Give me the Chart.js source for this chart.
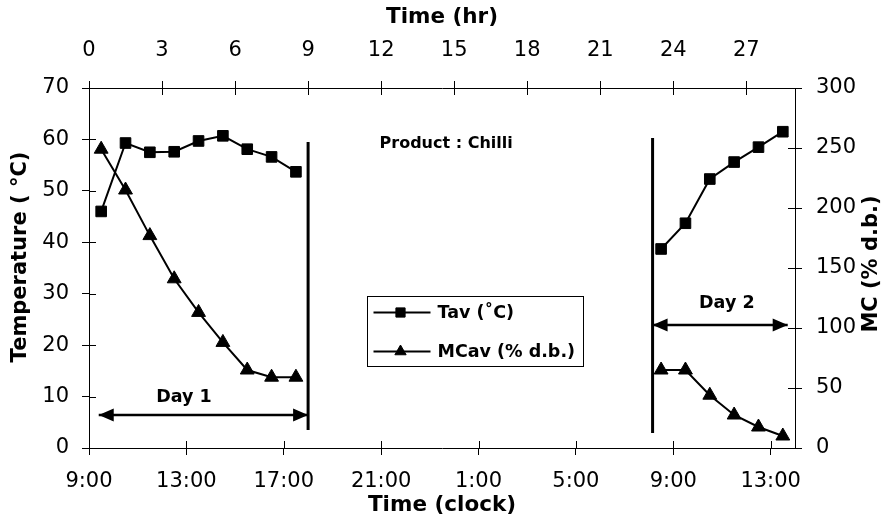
<!DOCTYPE html>
<html>
<head>
<meta charset="utf-8">
<script src="https://cdn.jsdelivr.net/npm/chart.js@4/dist/chart.umd.min.js"></script>
<style>
  html, body { margin: 0; padding: 0; background: #fff; }
  canvas { display: block; }
</style>
</head>
<body>
<canvas id="chart" width="893" height="522"></canvas>
<script>
// Elapsed drying time (hr) of each reading
const hoursDay1 = [0.5, 1.5, 2.5, 3.5, 4.5, 5.5, 6.5, 7.5, 8.5];
const hoursDay2 = [23.5, 24.5, 25.5, 26.5, 27.5, 28.5];
// Average air temperature, Tav (°C)
const tempDay1 = [46, 59.3, 57.5, 57.6, 59.7, 60.7, 58.1, 56.6, 53.7];
const tempDay2 = [38.7, 43.7, 52.3, 55.6, 58.5, 61.5];
// Average moisture content, MCav (% d.b.)
const mcDay1 = [249, 215, 177, 141, 113, 88, 65, 59, 59];
const mcDay2 = [65, 65, 44, 27.5, 17.5, 10];

// Tick labels
const clockLabels = ['9:00', '13:00', '17:00', '21:00', '1:00', '5:00', '9:00', '13:00'];
const hourLabels = ['0', '3', '6', '9', '12', '15', '18', '21', '24', '27'];
const tempLabels = ['0', '10', '20', '30', '40', '50', '60', '70'];
const mcLabels = ['0', '50', '100', '150', '200', '250', '300'];

// Start/end of each drying day (hr) and the vertical marker extent (°C)
const boundaryHours = [9.0, 23.15];
const boundaryLow = [3.5, 2.9];
const boundaryHigh = [59.5, 60.3];
// Day span arrows (hr) and their height (°C)
const arrowStart = [0.4, 23.15];
const arrowEnd = [9.0, 28.7];
const arrowLevel = [6.4, 23.9];
const dayNames = ['Day 1', 'Day 2'];
const dayNameHour = [3.9, 26.2];
const dayNameLevel = [9.9, 28.2];

const FONT = "'DejaVu Sans', sans-serif";

function joinDays(h1, v1, h2, v2) {
  const pts = h1.map((h, i) => ({ x: h, y: v1[i] }));
  pts.push({ x: (h1[h1.length - 1] + h2[0]) / 2, y: null });
  h2.forEach((h, i) => pts.push({ x: h, y: v2[i] }));
  return pts;
}

const datasets = [
  {
    label: 'Tav (˚C)',
    data: joinDays(hoursDay1, tempDay1, hoursDay2, tempDay2),
    xAxisID: 'x', yAxisID: 'y',
    borderColor: '#000', backgroundColor: '#000', borderWidth: 2,
    pointStyle: 'rect', pointRadius: 7.5, pointBorderWidth: 1,
    spanGaps: false, isSeries: true
  },
  {
    label: 'MCav (% d.b.)',
    data: joinDays(hoursDay1, mcDay1, hoursDay2, mcDay2),
    xAxisID: 'x', yAxisID: 'y2',
    borderColor: '#000', backgroundColor: '#000', borderWidth: 2,
    pointStyle: 'triangle', pointRadius: 8, pointBorderWidth: 1,
    spanGaps: false, isSeries: true
  }
];

boundaryHours.forEach((h, i) => {
  datasets.push({
    label: 'boundary' + i,
    data: [{ x: h, y: boundaryLow[i] }, { x: h, y: boundaryHigh[i] }],
    xAxisID: 'x', yAxisID: 'y',
    borderColor: '#000', borderWidth: 3, pointRadius: 0
  });
});
arrowStart.forEach((h, i) => {
  datasets.push({
    label: 'span' + i,
    data: [{ x: h, y: arrowLevel[i] }, { x: arrowEnd[i], y: arrowLevel[i] }],
    xAxisID: 'x', yAxisID: 'y',
    borderColor: '#000', borderWidth: 2.5, pointRadius: 0, isArrow: true
  });
});

function fixSize(prop, size) {
  return function (scale) { scale[prop] = size; };
}

const decorations = {
  id: 'decorations',
  afterDatasetsDraw(chart) {
    const { ctx, chartArea: a, scales } = chart;
    ctx.save();
    ctx.strokeStyle = '#000';
    ctx.fillStyle = '#000';

    // tick marks reaching into the plot area
    ctx.lineWidth = 1;
    const inner = 7;
    ctx.beginPath();
    scales.x.ticks.forEach(t => {
      const p = Math.round(scales.x.getPixelForValue(t.value)) + 0.5;
      ctx.moveTo(p, a.bottom); ctx.lineTo(p, a.bottom - inner);
    });
    scales.x2.ticks.forEach(t => {
      const p = Math.round(scales.x2.getPixelForValue(t.value)) + 0.5;
      ctx.moveTo(p, a.top); ctx.lineTo(p, a.top + inner);
    });
    scales.y.ticks.forEach(t => {
      const p = Math.round(scales.y.getPixelForValue(t.value)) + 0.5;
      ctx.moveTo(a.left, p); ctx.lineTo(a.left + inner, p);
    });
    scales.y2.ticks.forEach(t => {
      const p = Math.round(scales.y2.getPixelForValue(t.value)) + 0.5;
      ctx.moveTo(a.right, p); ctx.lineTo(a.right - inner, p);
    });
    ctx.stroke();

    // arrowheads on the day spans
    chart.data.datasets.forEach((ds, i) => {
      if (!ds.isArrow) return;
      const pts = chart.getDatasetMeta(i).data;
      const p0 = pts[0], p1 = pts[pts.length - 1];
      const len = 15, half = 6.5;
      ctx.beginPath();
      ctx.moveTo(p0.x, p0.y); ctx.lineTo(p0.x + len, p0.y - half); ctx.lineTo(p0.x + len, p0.y + half);
      ctx.closePath();
      ctx.moveTo(p1.x, p1.y); ctx.lineTo(p1.x - len, p1.y - half); ctx.lineTo(p1.x - len, p1.y + half);
      ctx.closePath();
      ctx.fill();
    });

    // day captions and product note
    ctx.textAlign = 'center';
    ctx.textBaseline = 'middle';
    ctx.font = 'bold 17.5px ' + FONT;
    dayNames.forEach((name, i) => {
      ctx.fillText(name, scales.x.getPixelForValue(dayNameHour[i]), scales.y.getPixelForValue(dayNameLevel[i]));
    });
    ctx.font = 'bold 16px ' + FONT;
    ctx.fillText('Product : Chilli', scales.x.getPixelForValue(14.67), scales.y.getPixelForValue(59.1));

    // legend box
    const series = chart.data.datasets.filter(d => d.isSeries);
    ctx.font = 'bold 17.5px ' + FONT;
    const textW = Math.max(...series.map(d => ctx.measureText(d.label).width));
    const bx = a.left + 278.5, by = a.top + 208.5;
    const bw = Math.round(70 + textW + 8), bh = 70;
    ctx.fillStyle = '#fff';
    ctx.fillRect(bx, by, bw, bh);
    ctx.fillStyle = '#000';
    ctx.lineWidth = 1;
    ctx.strokeRect(bx, by, bw, bh);
    series.forEach((d, i) => {
      const ry = by + 16 + i * 39;
      ctx.lineWidth = 2;
      ctx.beginPath();
      ctx.moveTo(bx + 6, ry); ctx.lineTo(bx + 63, ry);
      ctx.stroke();
      ctx.lineWidth = 1;
      Chart.helpers.drawPoint(ctx, { pointStyle: d.pointStyle, radius: 6.5, rotation: 0, borderWidth: 1 }, bx + 33, ry);
      ctx.textAlign = 'left';
      ctx.fillText(d.label, bx + 70, ry + 1);
    });

    // vertical axis titles, both reading bottom to top
    ctx.font = 'bold 21px ' + FONT;
    ctx.textAlign = 'center';
    ctx.textBaseline = 'middle';
    ctx.save();
    ctx.translate(21, 257);
    ctx.rotate(-Math.PI / 2);
    ctx.fillText('Temperature ( °C)', 0, 0);
    ctx.restore();
    ctx.save();
    ctx.translate(872, 264);
    ctx.rotate(-Math.PI / 2);
    ctx.fillText('MC (% d.b.)', 0, 0);
    ctx.restore();

    ctx.restore();
  }
};

const tickFont = { family: FONT, size: 21 };
const titleFont = { family: FONT, size: 21.5, weight: 'bold' };
const axisGrid = { display: true, drawOnChartArea: false, drawTicks: true, tickLength: 7, color: '#000', lineWidth: 1 };
const axisBorder = { display: true, color: '#000', width: 1 };

new Chart(document.getElementById('chart'), {
  type: 'line',
  data: { datasets },
  options: {
    responsive: false,
    animation: false,
    events: [],
    layout: { padding: 0 },
    plugins: { legend: { display: false }, tooltip: { enabled: false } },
    scales: {
      x: {
        type: 'linear', position: 'bottom', min: 0, max: 29,
        grid: axisGrid, border: axisBorder,
        ticks: {
          stepSize: 4, includeBounds: false, autoSkip: false, maxRotation: 0,
          color: '#000', font: tickFont, padding: 14,
          callback: v => clockLabels[Math.round(v / 4)]
        },
        title: { display: true, text: 'Time (clock)', color: '#000', font: titleFont, padding: { top: 0, bottom: 4 } },
        afterFit: fixSize('height', 74)
      },
      x2: {
        type: 'linear', position: 'top', min: 0, max: 29,
        grid: axisGrid, border: axisBorder,
        ticks: {
          stepSize: 3, includeBounds: false, autoSkip: false, maxRotation: 0,
          color: '#000', font: tickFont, padding: 18,
          callback: v => hourLabels[Math.round(v / 3)]
        },
        title: { display: true, text: 'Time (hr)', color: '#000', font: titleFont, padding: { top: 5, bottom: 0 } },
        afterFit: fixSize('height', 88)
      },
      y: {
        type: 'linear', position: 'left', min: 0, max: 70,
        grid: axisGrid, border: axisBorder,
        ticks: {
          stepSize: 10, includeBounds: false, color: '#000', font: tickFont, padding: 13,
          callback: v => tempLabels[Math.round(v / 10)]
        },
        afterFit: fixSize('width', 89)
      },
      y2: {
        type: 'linear', position: 'right', min: 0, max: 300,
        grid: axisGrid, border: axisBorder,
        ticks: {
          stepSize: 50, includeBounds: false, color: '#000', font: tickFont, padding: 14,
          callback: v => mcLabels[Math.round(v / 50)]
        },
        afterFit: fixSize('width', 98)
      }
    }
  },
  plugins: [decorations]
});
</script>
</body>
</html>
